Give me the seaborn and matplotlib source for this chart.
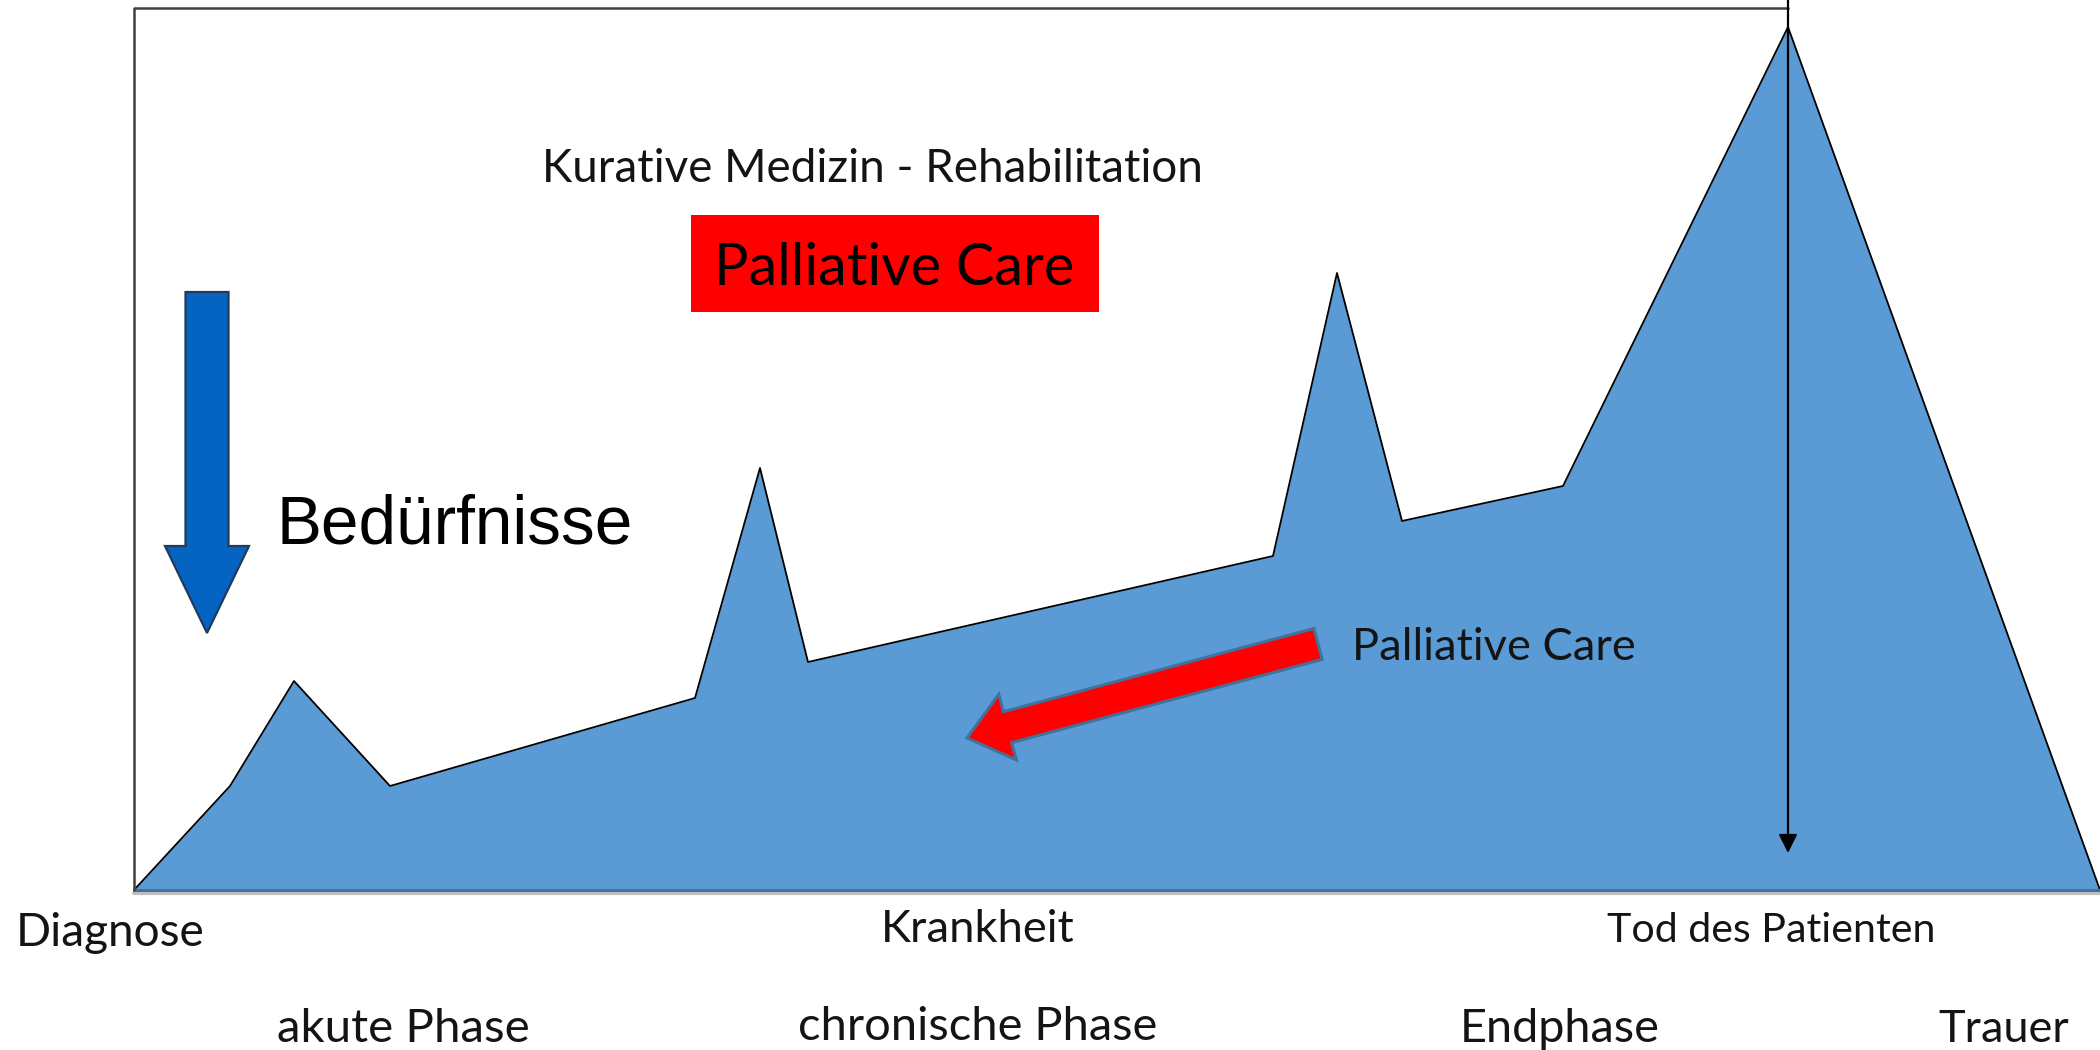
import matplotlib
matplotlib.use("Agg")
import matplotlib.pyplot as plt
from matplotlib.patches import FancyArrow, Rectangle
import seaborn as sns
import pandas as pd

# ---- data ----
time_x = [0, 96, 160, 256, 561, 626, 674, 1139, 1203, 1268, 1429, 1654, 1966]
need_y = [0, 104, 209, 104, 192, 422, 228, 334, 617, 369, 404, 863, 0]
phase_labels = ["akute Phase", "chronische Phase", "Endphase", "Trauer"]
milestone_labels = ["Diagnose", "Krankheit", "Tod des Patienten"]
title_text = "Kurative Medizin - Rehabilitation"
care_text = "Palliative Care"
need_text = "Bedürfnisse"

df = pd.DataFrame({"t": time_x, "need": need_y})

sns.set_theme(style="white")
plt.rcParams["font.family"] = ["Lato", "DejaVu Sans"]

fig = plt.figure(figsize=(21, 10.5), dpi=100)
ax = fig.add_axes([0, 0, 1, 1])
ax.set_xlim(-134, 1966)
ax.set_ylim(-160, 890)
ax.axis("off")

def X(px):
    return px - 134

def Y(py):
    return 890 - py

# faint shadow under baseline
ax.plot([X(134), X(2100)], [Y(893), Y(893)], color="#bfbfbf", lw=3, zorder=1)
# area
ax.fill_between(df["t"], 0, df["need"], color="#5B9BD5", lw=0, zorder=2)
sns.lineplot(data=df, x="t", y="need", sort=False, color="black", lw=1.3,
             ax=ax, zorder=3, legend=False)
ax.plot([df["t"].iloc[0], df["t"].iloc[-1]], [0, 0], color="#41719C", lw=2.2, zorder=3)
ax.set_xlabel("")
ax.set_ylabel("")
ax.axis("off")

# frame (left and top lines)
ax.plot([X(134), X(134), X(1788)], [Y(890), Y(8), Y(8)], color="#404040", lw=1.8, zorder=4)

# vertical arrow at death of patient
ax.annotate("", xy=(X(1788), Y(853)), xytext=(X(1788), Y(0)),
            arrowprops=dict(arrowstyle="-|>", color="black", lw=1.6,
                            mutation_scale=28, shrinkA=0, shrinkB=0), zorder=5)

# blue "Bedürfnisse" arrow
ax.add_patch(FancyArrow(X(207), Y(292), 0, -(633 - 292), width=43, head_width=84,
                        head_length=87, length_includes_head=True,
                        facecolor="#0563C1", edgecolor="#1f3b5c", lw=1.6, zorder=5))

# red "Palliative Care" arrow
ax.add_patch(FancyArrow(X(1318), Y(644), X(967) - X(1318), Y(738) - Y(644), width=32,
                        head_width=68, head_length=42, length_includes_head=True,
                        facecolor="#FF0000", edgecolor="#41719C", lw=2.2, zorder=5))

# red box
ax.add_patch(Rectangle((X(691), Y(312)), 1099 - 691, 312 - 215,
                       facecolor="#FF0000", edgecolor="none", zorder=5))

renderer = fig.canvas.get_renderer()

def place(text, x0, x1, base, family=("Lato", "DejaVu Sans"), color="#141414"):
    t = ax.text(X(x0), Y(base), text, fontsize=30, family=list(family),
                ha="left", va="baseline", color=color, zorder=6)
    w = t.get_window_extent(renderer).width
    t.set_fontsize(30 * (x1 - x0) / w)
    return t

place(title_text, 542, 1201, 182)
place(care_text, 714, 1074, 285, color="black")
place(care_text, 1352, 1635, 660)
place(need_text, 276, 632, 543, family=("Liberation Sans", "DejaVu Sans"), color="black")

place(milestone_labels[0], 16, 205, 946)
place(milestone_labels[1], 881, 1074, 942)
place(milestone_labels[2], 1607, 1935, 942)

place(phase_labels[0], 277, 529, 1042)
place(phase_labels[1], 798, 1157, 1040)
place(phase_labels[2], 1460, 1660, 1042)
place(phase_labels[3], 1938, 2069, 1042)

fig.savefig("out.png", dpi=100)
